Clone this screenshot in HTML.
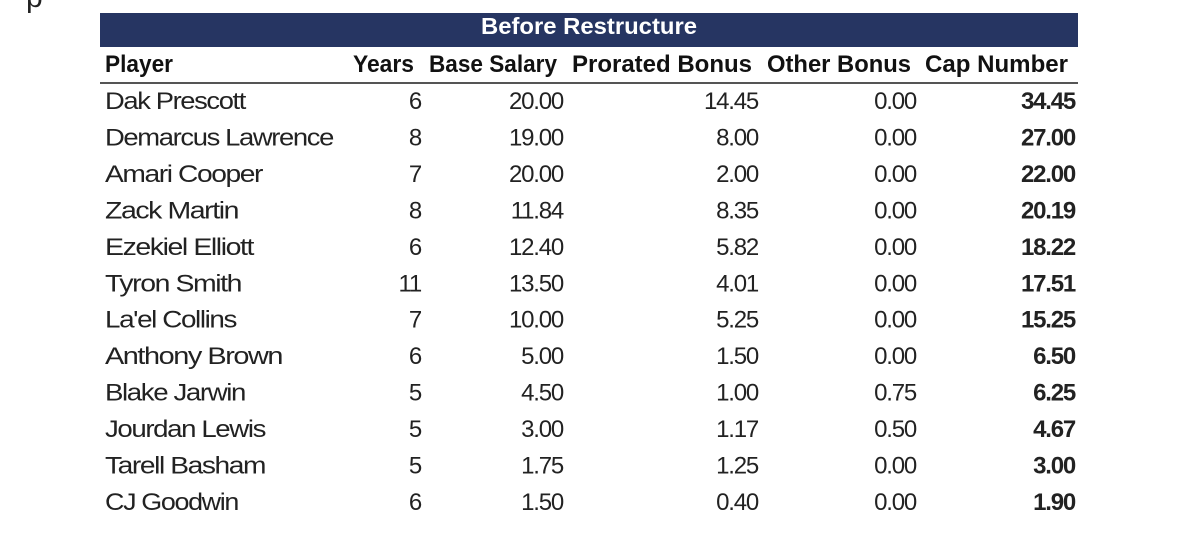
<!DOCTYPE html>
<html><head><meta charset="utf-8"><style>
html,body{margin:0;padding:0;background:#fff;}
svg{display:block;}
text{font-family:"Liberation Sans",Arial,sans-serif;}
</style></head><body>
<svg width="1200" height="534" viewBox="0 0 1200 534">
<text x="26" y="7" font-family="Liberation Serif" font-size="30" fill="#222">p</text>
<rect x="100" y="13" width="978" height="34" fill="#263562"/>
<text x="589" y="34" font-size="23" font-weight="bold" fill="#fff" text-anchor="middle" textLength="216" lengthAdjust="spacingAndGlyphs">Before Restructure</text>
<g font-size="24" font-weight="bold" fill="#111">
<text x="105" y="72" textLength="68" lengthAdjust="spacingAndGlyphs">Player</text>
<text x="353" y="72" textLength="61" lengthAdjust="spacingAndGlyphs">Years</text>
<text x="429" y="72" textLength="128" lengthAdjust="spacingAndGlyphs">Base Salary</text>
<text x="572" y="72" textLength="180" lengthAdjust="spacingAndGlyphs">Prorated Bonus</text>
<text x="767" y="72" textLength="144" lengthAdjust="spacingAndGlyphs">Other Bonus</text>
<text x="925" y="72" textLength="143" lengthAdjust="spacingAndGlyphs">Cap Number</text>
</g>
<rect x="100" y="82" width="978" height="2" fill="#555"/>
<g font-size="24" fill="#222" id="rows"></g>
</svg>
<script>
var d=[["Dak Prescott",6,"20.00","14.45","0.00","34.45",140],
["Demarcus Lawrence",8,"19.00","8.00","0.00","27.00",228],
["Amari Cooper",7,"20.00","2.00","0.00","22.00",157],
["Zack Martin",8,"11.84","8.35","0.00","20.19",133],
["Ezekiel Elliott",6,"12.40","5.82","0.00","18.22",148],
["Tyron Smith",11,"13.50","4.01","0.00","17.51",136],
["La'el Collins",7,"10.00","5.25","0.00","15.25",131],
["Anthony Brown",6,"5.00","1.50","0.00","6.50",177],
["Blake Jarwin",5,"4.50","1.00","0.75","6.25",140],
["Jourdan Lewis",5,"3.00","1.17","0.50","4.67",160],
["Tarell Basham",5,"1.75","1.25","0.00","3.00",160],
["CJ Goodwin",6,"1.50","0.40","0.00","1.90",133]];
var g=document.getElementById('rows'),ns="http://www.w3.org/2000/svg";
function t(x,y,s,a,b,w){var e=document.createElementNS(ns,'text');e.setAttribute('x',x);e.setAttribute('y',y);if(a)e.setAttribute('text-anchor','end');if(b)e.setAttribute('font-weight','bold');if(w){e.setAttribute('textLength',w);e.setAttribute('lengthAdjust','spacingAndGlyphs');}e.setAttribute('letter-spacing','-1.2');e.textContent=s;g.appendChild(e);}
d.forEach(function(r,i){var y=109+i*36.45;
t(105,y,r[0],0,0,r[6]);t(421,y,r[1],1);t(563,y,r[2],1);t(758,y,r[3],1);t(916,y,r[4],1);t(1075,y,r[5],1,1);});
</script>
</body></html>
